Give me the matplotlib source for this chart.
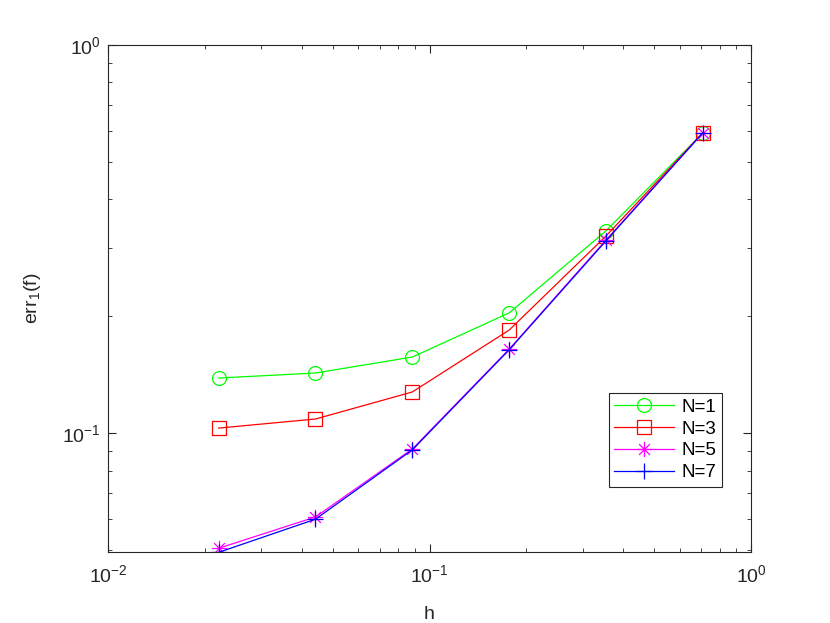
import numpy as np
import matplotlib
matplotlib.use("Agg")
import matplotlib.pyplot as plt
from matplotlib.path import Path
from matplotlib.ticker import LogLocator, NullFormatter, FuncFormatter

plt.rcParams['font.family'] = ['Liberation Sans', 'DejaVu Sans']
plt.rcParams['mathtext.fontset'] = 'custom'
plt.rcParams['mathtext.rm'] = 'Liberation Sans'
plt.rcParams['mathtext.it'] = 'Liberation Sans'
plt.rcParams['mathtext.default'] = 'regular'

h = [0.0221, 0.0442, 0.0884, 0.177, 0.354, 0.707]
err_n1 = [0.1386, 0.1428, 0.157, 0.204, 0.332, 0.593]
err_n3 = [0.103, 0.1087, 0.1276, 0.1843, 0.322, 0.593]
err_n5 = [0.0505, 0.0608, 0.091, 0.1646, 0.3145, 0.593]
err_n7 = [0.0493, 0.0600, 0.0905, 0.164, 0.313, 0.593]

# matlab style asterisk: plus and cross together
d = 0.7071
asterisk = Path(
    [(-1, 0), (1, 0), (0, -1), (0, 1), (-d, -d), (d, d), (-d, d), (d, -d)],
    [Path.MOVETO, Path.LINETO] * 4,
)

series = [
    (err_n1, "N=1", "#00ff00", "o", 10),
    (err_n3, "N=3", "#ff0000", "s", 10),
    (err_n5, "N=5", "#ff00ff", asterisk, 11),
    (err_n7, "N=7", "#0000ff", "+", 12),
]

fig = plt.figure(figsize=(8.3, 6.23), dpi=100)
ax = fig.add_axes([0.130, 0.114, 0.775, 0.814])

for vals, lab, col, mk, ms in series:
    ax.loglog(h, vals, color=col, marker=mk, markersize=ms,
              markerfacecolor="none", markeredgecolor=col, lw=0.9,
              markeredgewidth=0.9, label=lab)

ax.set_xlim(1e-2, 1e0)
ax.set_ylim(0.0494, 1e0)

ax.xaxis.set_major_locator(LogLocator(base=10, numticks=10))
ax.yaxis.set_major_locator(LogLocator(base=10, numticks=10))
ax.xaxis.set_minor_locator(LogLocator(base=10, subs=np.arange(2, 10), numticks=20))
ax.yaxis.set_minor_locator(LogLocator(base=10, subs=np.arange(2, 10), numticks=20))
ax.xaxis.set_minor_formatter(NullFormatter())
ax.yaxis.set_minor_formatter(NullFormatter())
fmt = FuncFormatter(lambda v, p: r"10$^{%d}$" % int(round(np.log10(v))))
ax.xaxis.set_major_formatter(fmt)
ax.yaxis.set_major_formatter(fmt)

axcol = "#262626"
for sp in ax.spines.values():
    sp.set_color(axcol)
    sp.set_linewidth(0.8)
ax.tick_params(which="both", direction="in", top=True, right=True,
               colors=axcol, labelsize=14)
ax.tick_params(which="major", length=6)
ax.tick_params(which="minor", length=3)
ax.tick_params(axis="x", which="major", pad=9)
ax.tick_params(axis="y", which="major", pad=5)

ax.set_xlabel("h", fontsize=14, color=axcol, labelpad=14)
ax.set_ylabel(r"err$_1$(f)", fontsize=14, color=axcol, labelpad=14)

leg = ax.legend(loc="lower right", bbox_to_anchor=(0.970, 0.110),
                fontsize=13.5, fancybox=False, framealpha=1, edgecolor=axcol,
                handlelength=3.2, borderpad=0.3, labelspacing=0.25,
                handletextpad=0.4)
leg.get_frame().set_linewidth(0.8)

fig.savefig("out.png", dpi=100)
